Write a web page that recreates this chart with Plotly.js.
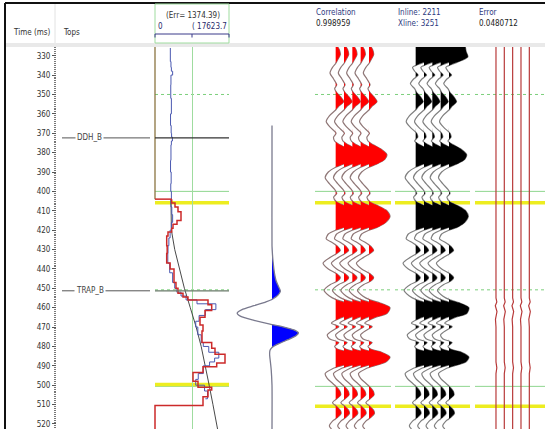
<!DOCTYPE html>
<html><head><meta charset="utf-8">
<script src="https://cdn.plot.ly/plotly-3.0.1.min.js"></script>
<style>html,body{margin:0;padding:0;background:#fff}#chart{width:545px;height:429px}</style>
</head><body><div id="chart"></div>
<script>
// ---------- DATA ----------
const yTickVals = [330,340,350,360,370,380,390,400,410,420,430,440,450,460,470,480,490,500,510,520];
const topsNames = ['DDH_B','TRAP_B'];
const topsTimes = [372.4, 451.3];
const logScaleMin = 0;
const logScaleMax = 17623.7;
const headerTexts = {time:'Time (ms)', tops:'Tops', err:'(Err= 1374.39)', smin:'0', smax:'( 17623.7',
  corrLabel:'Correlation', corrValue:'0.998959', inline:'Inline: 2211', xline:'Xline: 3251',
  errLabel:'Error', errValue:'0.0480712'};

// log track (blocky red = upscaled, blue = original, black = trend)
const redT = [325.5,404,406,408,410.5,415,417,419,421,423,428,432,437,440,447,450,452.5,454.5,456,458.5,461.5,465,469,472,478,481,484,488.5,490.5,493.5,498,501,502.5,506,510.5,522.6];
const redV = [0,3977,4763,5478,6192,5240,4287,3977,3096,2786,2900,2786,3600,4525,5000,5478,6668,7859,12622,13503,11908,10717,11432,11193,13503,14290,16671,14694,11432,9050,10241,13503,12622,11432,0,0];
const blueT = [326,333,336,338,340,345,352,360,366,370,372,374,376,384,390,396,400,404,408,412,416,420,424,428,432,437,442,447,450,452,454,456,458,461,464,467,470,474,478,480,483,486,488,490,494,497,500,503,507];
const blueV = [3650,3800,3900,4200,3800,3750,3900,3700,3850,3950,4150,3900,3800,3700,3850,3750,3900,3800,4000,4200,3900,3600,3300,3100,3050,3500,4200,4700,5200,6200,7400,10000,14500,12000,10500,9700,10200,11000,11500,12800,15200,14200,13000,11500,10300,9700,11800,12500,12000];
const trendT = [404,420,430,440,450,460,470,480,490,500,510,522.6];
const trendV = [3800,3900,4700,5800,7000,8400,9800,11000,12000,12900,13800,14900];

// wavelet
const waveT = [366,400,428,432,437,442,446,449,451.5,453.5,455.5,457,459,461,462.8,464.5,466.5,468.5,470,471.5,473,474.5,476.5,478.5,480.5,482,484,488,492,500,522.6];
const waveA = [0,0,0,0.01,0.03,0.06,0.10,0.16,0.21,0.15,0.02,-0.15,-0.45,-0.75,-0.87,-0.78,-0.45,-0.05,0.30,0.55,0.66,0.60,0.40,0.18,0.0,-0.05,-0.06,-0.04,-0.02,0,0];

// synthetic (red) trace
const synT = [325.5,327,329.5,332,334,336,339,342,345,347,349,351,353.7,356,358,361,364,367,370,372,374,376,378,381,383.5,386,387.5,390,393,396,399,401,403,405.5,407.5,410,413,416,418.5,420,422,424.5,426.5,428.5,430.5,432,434,437,440,442.5,444.5,446.5,448,451,454,456,457.5,460,463,465,466.5,468,469.8,471.5,474,476,478,480,481.5,483,485.5,488,490,491.5,494,496.5,499,501,503,505,507,509,511,513,514.5,516.5,518.5,521,522.6];
const synA = [0.10,0.18,0.22,0.10,0.0,-0.15,-0.27,-0.10,0.05,-0.05,0.05,0.22,0.38,0.15,0.0,-0.30,-0.45,-0.25,0.02,-0.10,-0.05,0.20,0.55,0.85,0.75,0.35,0.0,-0.35,-0.50,-0.30,-0.05,0.05,-0.10,0.05,0.45,0.85,1.0,0.80,0.40,0.0,-0.35,-0.45,-0.15,0.10,0.22,0.05,-0.25,-0.60,-0.35,0.05,0.22,0.05,-0.25,-0.55,-0.30,0.05,0.50,1.0,0.85,0.30,0.0,-0.20,0.15,-0.10,-0.40,-0.30,0.15,-0.05,0.10,0.60,1.0,0.80,0.25,-0.15,-0.50,-0.40,-0.15,0.05,0.20,0.24,0.05,-0.15,0.05,0.22,0.26,0.10,-0.15,-0.30,-0.20];

// seismic (black) trace
const seisT = [325.5,328,330.5,332.5,334.5,336,338,340,342,344.5,347,349,351,353.7,356,358,361,364,367,370,372,374,376,378,381,383.5,386,387.5,390,393,396,399,401,403,405.5,407.5,410,413,416,418.5,420,422,424.5,426.5,428.5,430.5,432,434,437,440,442.5,444.5,446.5,448,451,454,456,457.5,460,463,465,466.5,468,469.8,471.5,474,476,478,480,481.5,483,485.5,488,490,491.5,494,496.5,499,501,503,505,507,509,511,513,514.5,516.5,518.5,521,522.6];
const seisA = [0.78,0.82,0.90,0.60,0.12,-0.15,-0.05,0.12,-0.10,-0.25,-0.05,0.05,0.22,0.36,0.15,0.0,-0.30,-0.45,-0.25,0.05,0.10,-0.05,0.20,0.55,0.84,0.75,0.35,0.0,-0.35,-0.50,-0.30,-0.05,0.05,-0.10,0.05,0.45,0.80,0.92,0.75,0.40,0.0,-0.35,-0.45,-0.15,0.10,0.22,0.05,-0.25,-0.60,-0.35,0.05,0.22,0.05,-0.25,-0.55,-0.30,0.05,0.50,0.95,0.85,0.30,0.0,-0.20,0.15,-0.10,-0.40,-0.30,0.15,-0.05,0.10,0.60,0.95,0.80,0.25,-0.15,-0.50,-0.40,-0.15,0.05,0.20,0.24,0.05,-0.15,0.05,0.22,0.26,0.10,-0.15,-0.30,-0.20];

// error trace
const errT = [325.5,455,457,459,462,466,470,488,491,494,522.6];
const errA = [0,0,0.10,-0.08,0.12,-0.06,0,0,0.10,0,0];

const traceOffsets = [0,1,2,3,4];

// horizons
const greenDashed = [350, 450.8];
const greenSolid = [400, 500.6];
const yellowSeis = [405.8, 510.9];
const yellowLog = [405.8, 499.7];

// ---------- HELPERS ----------
const W = 545, H = 429;
const px = v => v / W;
const py = v => 1 - v / H;
const FONT = 'DejaVu Sans Condensed, DejaVu Sans, sans-serif';

function posFill(offset, T, A, g) {
  const xs = [], ys = [];
  for (let i = 0; i < T.length; i++) {
    if (i > 0 && ((A[i-1] > 0) !== (A[i] > 0))) {
      const tc = T[i-1] + (T[i]-T[i-1]) * A[i-1] / (A[i-1]-A[i]);
      xs.push(offset); ys.push(tc);
    }
    xs.push(offset + Math.max(A[i], 0) * g); ys.push(T[i]);
  }
  xs.push(offset); ys.push(T[T.length-1]);
  xs.push(offset); ys.push(T[0]);
  return {xs, ys};
}

const traces = [];
// ---- log track (x) ----
traces.push({x: redV.slice(0,2).map(()=>0), y: redT.slice(0,2), xaxis:'x', yaxis:'y', mode:'lines',
  line:{color:'#8a7440', width:1.3}, hoverinfo:'skip'});
traces.push({x: trendV, y: trendT, xaxis:'x', yaxis:'y', mode:'lines', line:{color:'#333', width:0.9}, hoverinfo:'skip'});
traces.push({x: blueV, y: blueT, xaxis:'x', yaxis:'y', mode:'lines', line:{color:'#4a58b0', width:1, shape:'vh'}, hoverinfo:'skip'});
traces.push({x: redV.slice(1), y: redT.slice(1), xaxis:'x', yaxis:'y', mode:'lines', line:{color:'#cc2a2a', width:1.5, shape:'vh'}, hoverinfo:'skip'});
traces.push({x: [0, redV[1]], y: [redT[1], redT[1]], xaxis:'x', yaxis:'y', mode:'lines', line:{color:'#cc2a2a', width:1.5}, hoverinfo:'skip'});

// ---- wavelet (x2) ----
const wf = posFill(0, waveT, waveA, 1);
traces.push({x: wf.xs, y: wf.ys, xaxis:'x2', yaxis:'y', mode:'lines', fill:'toself', fillcolor:'#0000ff', line:{width:0, shape:'spline', smoothing:0.6}, hoverinfo:'skip'});
traces.push({x: waveA, y: waveT, xaxis:'x2', yaxis:'y', mode:'lines', line:{color:'#7a7a8e', width:1.3, shape:'spline', smoothing:0.6}, hoverinfo:'skip'});

// ---- synthetic & seismic wiggles (lines first, fills on top) ----
const GAIN = 2.52;
function addWiggles(axis, T, A, fillColor, lineColor) {
  traceOffsets.forEach(k => {
    traces.push({x: A.map(a => k + a * GAIN), y: T, xaxis: axis, yaxis:'y', mode:'lines',
      line:{color: lineColor, width:1.2, shape:'spline', smoothing:0.7}, hoverinfo:'skip'});
  });
  traceOffsets.forEach(k => {
    const f = posFill(k, T, A, GAIN);
    traces.push({x: f.xs, y: f.ys, xaxis: axis, yaxis:'y', mode:'lines', fill:'toself', fillcolor: fillColor,
      line:{width:0, shape:'spline', smoothing:0.7}, hoverinfo:'skip'});
  });
}
addWiggles('x3', synT, synA, '#ff0000', '#8f7777');
addWiggles('x4', seisT, seisA, '#000000', '#808080');

// ---- error (x5) ----
traceOffsets.forEach(k => {
  traces.push({x: errA.map(a => k + a), y: errT, xaxis:'x5', yaxis:'y', mode:'lines',
    line:{color:'#b83a3a', width:1.2}, hoverinfo:'skip'});
});

// ---------- SHAPES ----------
const shapes = [];
shapes.push({type:'line', xref:'paper', yref:'paper', x0:px(5), x1:px(5), y0:py(3), y1:0, line:{color:'#111', width:2}});
shapes.push({type:'line', xref:'paper', yref:'paper', x0:px(5), x1:1, y0:py(3), y1:py(3), line:{color:'#111', width:2}});
shapes.push({type:'rect', xref:'paper', yref:'paper', x0:px(6), x1:1, y0:py(47), y1:py(43), fillcolor:'#e9e9e9', line:{width:0}});
shapes.push({type:'line', xref:'paper', yref:'paper', x0:px(55), x1:px(55), y0:py(4), y1:py(43), line:{color:'#e2e2e2', width:1}});
shapes.push({type:'rect', xref:'paper', yref:'paper', x0:px(155), x1:px(229), y0:py(43), y1:py(4), line:{color:'#9fdc9f', width:1}});
shapes.push({type:'line', xref:'paper', yref:'paper', x0:px(155), x1:px(229), y0:py(34), y1:py(34), line:{color:'#3a3a8a', width:1}});
[155,192,229].forEach(xx => shapes.push({type:'line', xref:'paper', yref:'paper', x0:px(xx), x1:px(xx), y0:py(34), y1:py(37.5), line:{color:'#3a3a8a', width:1}}));

const logSpan = [px(155), px(229)];
const seisSpans = [[px(315), px(391)], [px(395), px(470)], [px(475), 1]];
function hline(span, t, color, width, dash) {
  shapes.push({type:'line', xref:'paper', yref:'y', x0:span[0], x1:span[1], y0:t, y1:t, layer:'below', line:{color, width, dash}});
}
greenDashed.forEach(t => { hline(logSpan, t, '#7ccf7c', 1, 'dot'); seisSpans.forEach(s => hline(s, t, '#7ccf7c', 1, 'dot')); });
greenSolid.forEach(t => { hline(logSpan, t, '#8fd68f', 1, 'solid'); seisSpans.forEach(s => hline(s, t, '#8fd68f', 1, 'solid')); });
yellowLog.forEach(t => hline(logSpan, t, '#eded20', 3.5, 'solid'));
yellowSeis.forEach(t => seisSpans.forEach(s => hline(s, t, '#eded20', 3.5, 'solid')));
topsTimes.forEach((t, i) => {
  shapes.push({type:'line', xref:'paper', yref:'y', x0:px(62), x1:px(150), y0:t, y1:t, line:{color:'#555', width:1}});
  shapes.push({type:'line', xref:'paper', yref:'y', x0:px(155), x1:px(229), y0:t, y1:t, line:{color: i===0 ? '#333' : '#6a7a6a', width:1.2}});
});

// ---------- ANNOTATIONS ----------
const ann = [];
function txt(text, x, y, xanchor, color, size) {
  ann.push({text, x:px(x), y:py(y), xref:'paper', yref:'paper', xanchor, yanchor:'middle', showarrow:false,
    font:{family:FONT, size: size || 8, color: color || '#333'}});
}
txt(headerTexts.time, 11, 33, 'left', '#333');
txt(headerTexts.tops, 61, 33, 'left', '#333');
txt(headerTexts.err, 193, 15, 'center', '#333');
txt(headerTexts.smin, 156, 27, 'left', '#2a2a6a');
txt(headerTexts.smax, 229, 27, 'right', '#2a2a6a');
txt(headerTexts.corrLabel, 314, 12.5, 'left', '#2e3a80');
txt(headerTexts.corrValue, 314, 23.5, 'left', '#222');
txt(headerTexts.inline, 396, 12.5, 'left', '#2e3a80');
txt(headerTexts.xline, 396, 23.5, 'left', '#2e3a80');
txt(headerTexts.errLabel, 476.5, 12.5, 'left', '#2e3a80');
txt(headerTexts.errValue, 476.5, 23.5, 'left', '#222');
topsNames.forEach((n, i) => {
  ann.push({text:n, x:px(89.5), y:topsTimes[i], xref:'paper', yref:'y', xanchor:'center', yanchor:'middle', showarrow:false,
    bgcolor:'#fff', borderpad:1, font:{family:FONT, size:8, color:'#444'}});
});

// ---------- LAYOUT ----------
const yDom = [0, py(47)];
function xax(dom, range, extra) {
  return Object.assign({domain:[px(dom[0]), px(dom[1])], range, anchor:'y', showticklabels:false, ticks:'',
    showgrid:false, zeroline:false, showline:false, fixedrange:true}, extra || {});
}
const layout = {
  width: W, height: H, margin:{l:0, r:0, t:0, b:0}, paper_bgcolor:'#fff', plot_bgcolor:'#fff', showlegend:false,
  yaxis:{domain:yDom, range:[522.6, 325.5], anchor:'free', position:px(56), side:'left', tickmode:'array', tickvals:yTickVals,
    ticktext:yTickVals.map(String), ticks:'outside', ticklen:4, tickcolor:'#555', tickwidth:1, ticklabeloverflow:'allow',
    minor:{dtick:1, tick0:0, ticks:'outside', ticklen:2, tickcolor:'#777', tickwidth:1},
    showgrid:false, zeroline:false, showline:false, tickfont:{family:FONT, size:8, color:'#333'}, fixedrange:true},
  xaxis: xax([154, 230], [-238.2, 17861.9], {showgrid:true, gridcolor:'#9fdc9f', gridwidth:1,
    tickvals:[logScaleMin, logScaleMax/2, logScaleMax]}),
  xaxis2: xax([232, 312], [-1, 1]),
  xaxis3: xax([319, 394], [-2, 7]),
  xaxis4: xax([399, 474], [-2, 7]),
  xaxis5: xax([479.3, 545], [-2, 5.88]),
  shapes, annotations: ann
};
Plotly.newPlot('chart', traces, layout, {staticPlot:true, displayModeBar:false});
</script></body></html>
